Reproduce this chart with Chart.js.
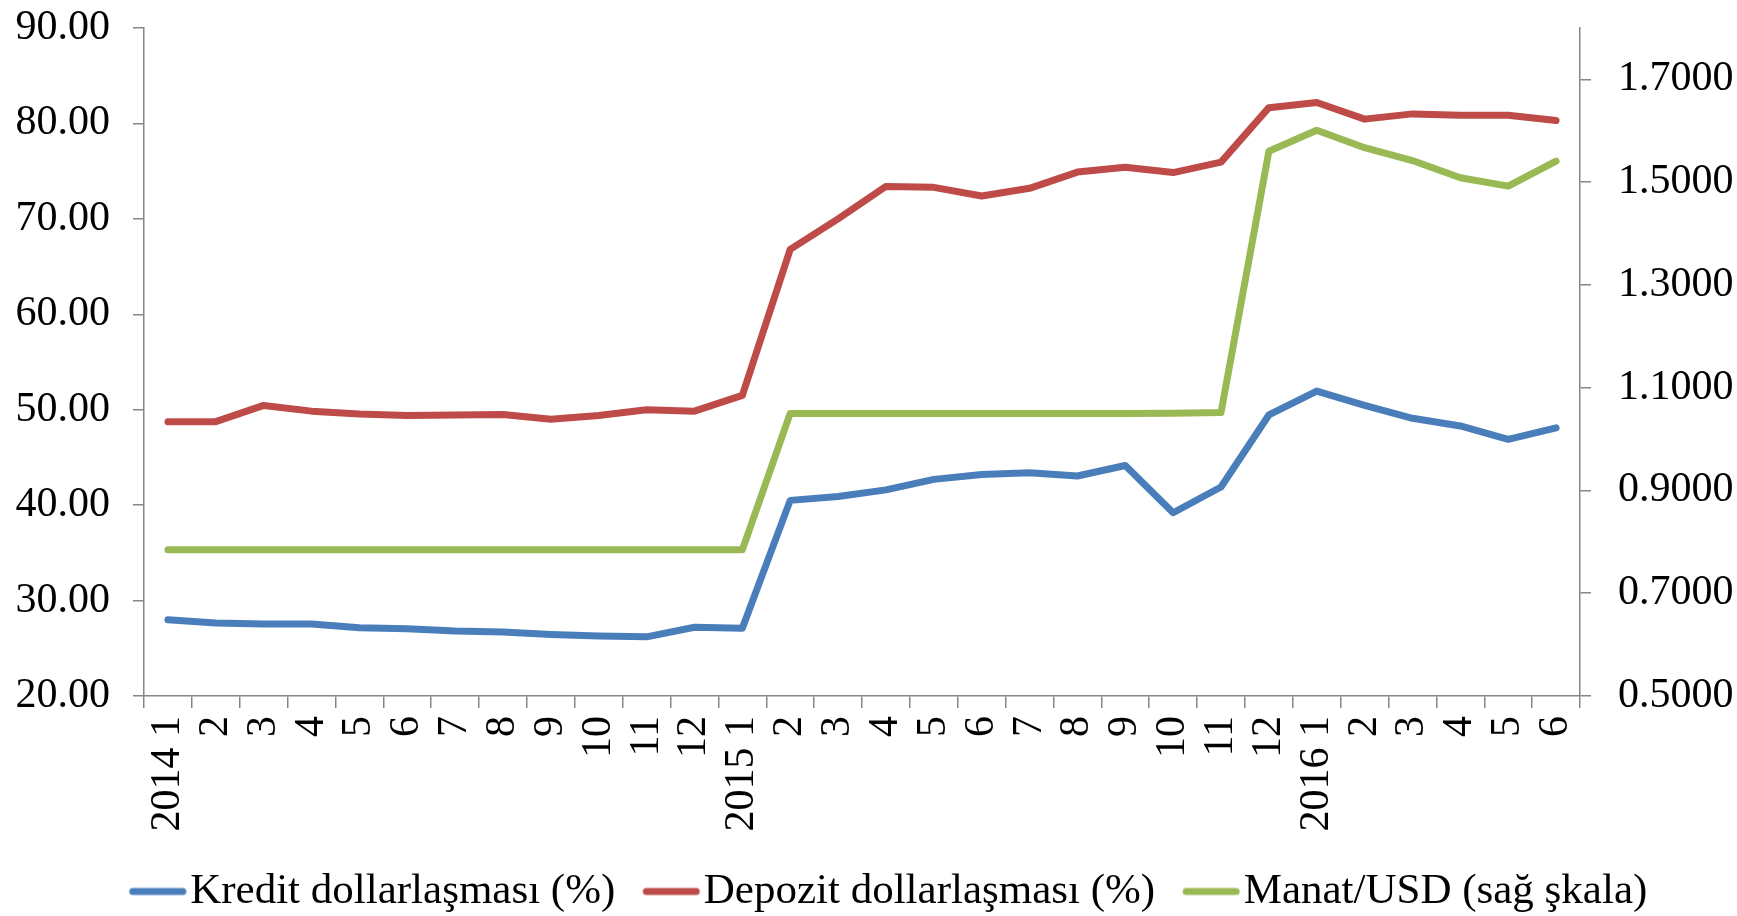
<!DOCTYPE html>
<html>
<head>
<meta charset="utf-8">
<script src="https://cdn.jsdelivr.net/npm/chart.js@4"></script>
<style>
  body { margin: 0; background: #fff; }
  canvas { display: block; }
</style>
</head>
<body>
<canvas id="chart" width="1737" height="916"></canvas>
<script>
// categories: months 2014-01 .. 2016-06
const categories = [
  "2014 1", "2", "3", "4", "5", "6", "7", "8", "9", "10", "11", "12",
  "2015 1", "2", "3", "4", "5", "6", "7", "8", "9", "10", "11", "12",
  "2016 1", "2", "3", "4", "5", "6"
];

// Kredit dollarlaşması (%) - left axis
const kredit = [
  28.0, 27.65, 27.55, 27.55, 27.15, 27.05, 26.8, 26.7, 26.45, 26.3, 26.2, 27.2,
  27.1, 40.5, 40.9, 41.6, 42.7, 43.2, 43.4, 43.05, 44.15, 39.2, 41.9, 49.45,
  51.95, 50.45, 49.1, 48.3, 46.9, 48.1
];

// Depozit dollarlaşması (%) - left axis
const depozit = [
  48.75, 48.75, 50.45, 49.85, 49.55, 49.4, 49.45, 49.5, 49.0, 49.4, 50.0, 49.85,
  51.5, 66.8, 70.0, 73.4, 73.3, 72.4, 73.2, 74.9, 75.4, 74.85, 75.95, 81.65,
  82.2, 80.45, 81.0, 80.85, 80.85, 80.3
];

// Manat/USD (sağ şkala) - right axis
const manatUsd = [
  0.7845, 0.7845, 0.7845, 0.7845, 0.7845, 0.7845, 0.7845, 0.7845, 0.7845, 0.7845, 0.7845, 0.7845,
  0.7845, 1.0500, 1.0498, 1.0499, 1.0500, 1.0498, 1.0500, 1.0499, 1.0500, 1.0505, 1.0515, 1.5600,
  1.6010, 1.5670, 1.5420, 1.5086, 1.4922, 1.5409
];

const leftTicks = [20, 30, 40, 50, 60, 70, 80, 90];
const rightTicks = [0.5, 0.7, 0.9, 1.1, 1.3, 1.5, 1.7];

const seriesNames = ["Kredit dollarlaşması (%)", "Depozit dollarlaşması (%)", "Manat/USD (sağ şkala)"];
const seriesColors = ["#4A7EBB", "#BE4B48", "#98B954"];

const axisColor = "#868686";
const font = { family: "'Liberation Serif', 'Times New Roman', serif", size: 42 };
const legendFont = { family: "'Liberation Serif', 'Times New Roman', serif", size: 43 };

// legend swatch: short line placed so it ends right next to the legend text
const swatchBox = 55;
function legendSwatch(color) {
  const c = document.createElement("canvas");
  c.width = 91;
  c.height = 12;
  const g = c.getContext("2d");
  g.strokeStyle = color;
  g.lineWidth = 7;
  g.lineCap = "round";
  g.beginPath();
  g.moveTo(37, 6);
  g.lineTo(87, 6);
  g.stroke();
  return c;
}

function lineSet(i, data, axis) {
  return {
    label: seriesNames[i],
    data: data,
    yAxisID: axis,
    borderColor: seriesColors[i],
    backgroundColor: seriesColors[i],
    borderWidth: 7,
    borderCapStyle: "round",
    borderJoinStyle: "round",
    pointRadius: 0,
    pointStyle: legendSwatch(seriesColors[i]),
    tension: 0,
    fill: false
  };
}

function noEndPadding(s) {
  s.paddingTop = 0;
  s.paddingBottom = 0;
}

// negative right padding shifts the centred legend a bit to the right,
// the right axis gets the same amount back so the plot area stays put
const rightShift = 24;

new Chart(document.getElementById("chart").getContext("2d"), {
  type: "line",
  data: {
    labels: categories,
    datasets: [
      lineSet(0, kredit, "y"),
      lineSet(1, depozit, "y"),
      lineSet(2, manatUsd, "y1")
    ]
  },
  options: {
    responsive: false,
    animation: false,
    layout: { padding: { top: 28, left: 0, right: -rightShift, bottom: -7 } },
    plugins: {
      tooltip: { enabled: false },
      legend: {
        position: "bottom",
        labels: {
          usePointStyle: true,
          pointStyleWidth: swatchBox,
          padding: 12,
          color: "#000",
          font: legendFont
        }
      }
    },
    scales: {
      x: {
        offset: true,
        grid: { offset: true, drawOnChartArea: false, tickLength: 12, color: axisColor, lineWidth: 1.5 },
        border: { color: axisColor, width: 1.5 },
        ticks: { autoSkip: false, minRotation: 90, maxRotation: 90, padding: 8, color: "#000", font: font },
        afterFit: (s) => { s.height = 162; }
      },
      y: {
        position: "left",
        min: 20,
        max: 90,
        afterBuildTicks: (s) => { s.ticks = leftTicks.map((v) => ({ value: v })); },
        grid: { drawOnChartArea: false, tickLength: 11, color: axisColor, lineWidth: 1.5 },
        border: { color: axisColor, width: 1.5 },
        ticks: { padding: 23, color: "#000", font: font, callback: (v) => Number(v).toFixed(2) },
        afterFit: (s) => { s.width = 144; noEndPadding(s); }
      },
      y1: {
        position: "right",
        min: 0.5,
        max: 1.8,
        afterBuildTicks: (s) => { s.ticks = rightTicks.map((v) => ({ value: v })); },
        grid: { drawOnChartArea: false, tickLength: 11, color: axisColor, lineWidth: 1.5 },
        border: { color: axisColor, width: 1.5 },
        ticks: { padding: 27, color: "#000", font: font, callback: (v) => Number(v).toFixed(4) },
        afterFit: (s) => { s.width = 157 + rightShift; noEndPadding(s); }
      }
    }
  }
});
</script>
</body>
</html>
